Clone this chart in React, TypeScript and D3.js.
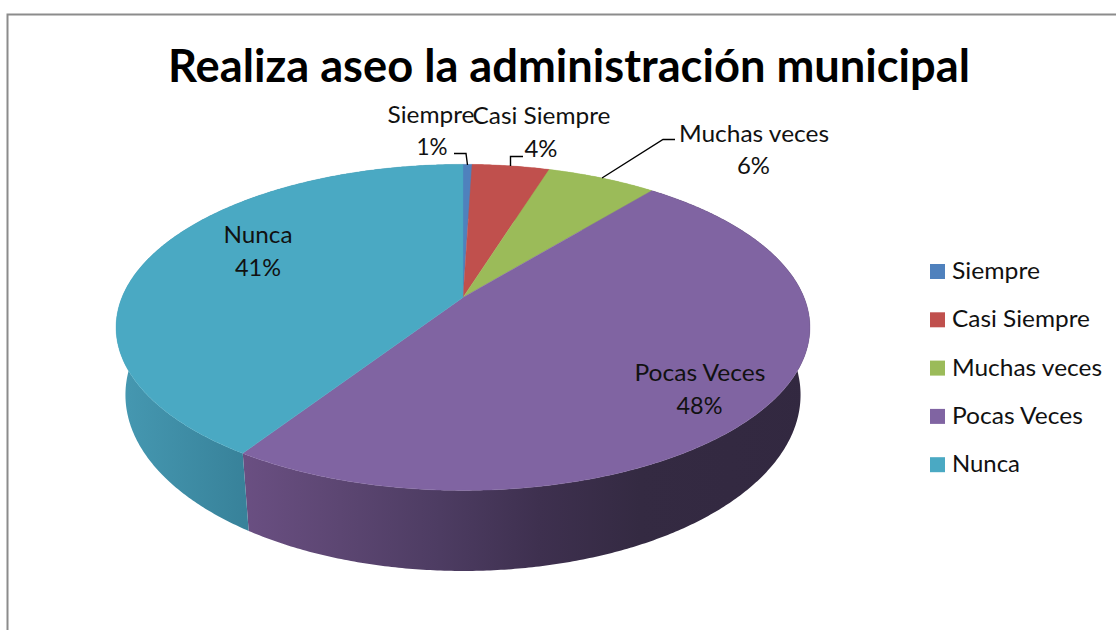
import React from "react";
import * as d3 from "d3";

const title = "Realiza aseo la administración municipal";
const categories = ["Siempre", "Casi Siempre", "Muchas veces", "Pocas Veces", "Nunca"];
const values = [0.5, 4.3, 6.1, 48.3, 40.8];
const percentLabels = ["1%", "4%", "6%", "48%", "41%"];
const colors = ["#4f81bd", "#c0504d", "#9bbb59", "#8064a2", "#4aa9c3"];

const purpleStops = [244, 340, 440, 540, 640, 820];
const purpleShades = ["#6a4f82", "#5c4672", "#4d3c62", "#3e304f", "#342a42", "#322840"];
const tealStops = [116, 244];
const tealShades = ["#4699b2", "#38829a"];

const FONT = "Lato, 'Open Sans', sans-serif";
const TEXT = "#111111";

// Perspective projection of the pie disc
const K = 0.184;
const A = 341;
const B = 157.5;
const CX = 463;
const TOP_Y = 297.4;
const WALL_Y = 362.5;
const WALL_SX = 0.973;
const WALL_SY = 1.08;

const project = (angle: number) => {
  const u = Math.sin(angle);
  const v = -Math.cos(angle);
  const w = 1 - K * v;
  return { x: (A * u) / w, y: (B * v) / w };
};
const topPoint = (a: number): [number, number] => {
  const p = project(a);
  return [CX + p.x, TOP_Y + p.y];
};
const wallPoint = (a: number): [number, number] => {
  const p = project(a);
  return [CX + p.x * WALL_SX, WALL_Y + p.y * WALL_SY];
};

const pie = d3.pie<number>().sort(null).value((d) => d);
const arcs = pie(values);
const line = d3.line();

const STEP = Math.PI / 360;
const angleSteps = (start: number, end: number) => {
  const n = Math.max(2, Math.ceil((end - start) / STEP));
  return d3.range(n + 1).map((k) => start + ((end - start) * k) / n);
};

const slicePath = (start: number, end: number) =>
  line([[CX, TOP_Y], ...angleSteps(start, end).map(topPoint)]) + "Z";

const wallPath = (start: number, end: number) => {
  const angles = angleSteps(start, end);
  return line([...angles.map(topPoint), ...angles.slice().reverse().map(wallPoint)]) + "Z";
};

const gradients: Record<number, { id: string; stops: number[]; shades: string[] }> = {
  3: { id: "wall-pocas", stops: purpleStops, shades: purpleShades },
  4: { id: "wall-nunca", stops: tealStops, shades: tealShades },
};

const dataLabels = [
  { name: [431, 123, 87], pct: [432, 155, 31] },
  { name: [541.5, 124, 138], pct: [541, 157, 33] },
  { name: [754, 142, 150], pct: [753.5, 174, 33] },
  { name: [700, 381, 131], pct: [699.5, 414, 46] },
  { name: [258, 243, 69], pct: [258, 276, 46] },
];

const leaders = [
  [[454, 153.5], [466, 153.5], [467.5, 165]],
  [[523, 156.5], [510.5, 156.5], [510.5, 166]],
  [[675, 139.5], [663, 139.5], [602, 178]],
] as [number, number][][];

const Label = ({ x, y, w, children }: any) => (
  <text
    x={x}
    y={y}
    textAnchor="middle"
    fontSize={23.5}
    fill={TEXT}
    textLength={w}
    lengthAdjust="spacingAndGlyphs"
  >
    {children}
  </text>
);

export default function App() {
  return (
    <svg
      width={1116}
      height={630}
      fontFamily={FONT}
      style={{ position: "absolute", left: 0, top: 0, display: "block", background: "#fff" }}
    >
      <defs>
        {Object.values(gradients).map((g) => {
          const x0 = g.stops[0];
          const x1 = g.stops[g.stops.length - 1];
          const offset = d3.scaleLinear().domain([x0, x1]).range([0, 1]);
          return (
            <linearGradient key={g.id} id={g.id} gradientUnits="userSpaceOnUse" x1={x0} x2={x1} y1={0} y2={0}>
              {g.stops.map((s, i) => (
                <stop key={s} offset={offset(s)} stopColor={g.shades[i]} />
              ))}
            </linearGradient>
          );
        })}
      </defs>

      <path d="M7.5 630V14.5H1116" fill="none" stroke="#8c8c8c" strokeWidth={2} />

      <text
        x={569}
        y={82}
        textAnchor="middle"
        fontSize={46}
        fontWeight={700}
        fill="#000"
        textLength={802}
        lengthAdjust="spacingAndGlyphs"
      >
        {title}
      </text>

      <g>
        {arcs.map((arc, i) => (
          <path
            key={i}
            d={wallPath(arc.startAngle, arc.endAngle)}
            fill={gradients[i] ? `url(#${gradients[i].id})` : colors[i]}
          />
        ))}
      </g>
      <g>
        {arcs.map((arc, i) => (
          <path
            key={i}
            d={slicePath(arc.startAngle, arc.endAngle)}
            fill={colors[i]}
            stroke={colors[i]}
            strokeWidth={0.4}
          />
        ))}
      </g>

      <g fill="none" stroke="#000" strokeWidth={1.4}>
        {leaders.map((l, i) => (
          <path key={i} d={line(l) as string} />
        ))}
      </g>

      {dataLabels.map((l, i) => (
        <g key={i}>
          <Label x={l.name[0]} y={l.name[1]} w={l.name[2]}>
            {categories[i]}
          </Label>
          <Label x={l.pct[0]} y={l.pct[1]} w={l.pct[2]}>
            {percentLabels[i]}
          </Label>
        </g>
      ))}

      <g>
        {categories.map((c, i) => {
          const y = 264 + i * 48.3;
          return (
            <g key={c}>
              <rect x={930} y={y} width={15} height={15} fill={colors[i]} />
              <text
                x={952}
                y={y + 15}
                fontSize={23.5}
                fill={TEXT}
                textLength={[88, 138, 150, 131, 68][i]}
                lengthAdjust="spacingAndGlyphs"
              >
                {c}
              </text>
            </g>
          );
        })}
      </g>
    </svg>
  );
}
